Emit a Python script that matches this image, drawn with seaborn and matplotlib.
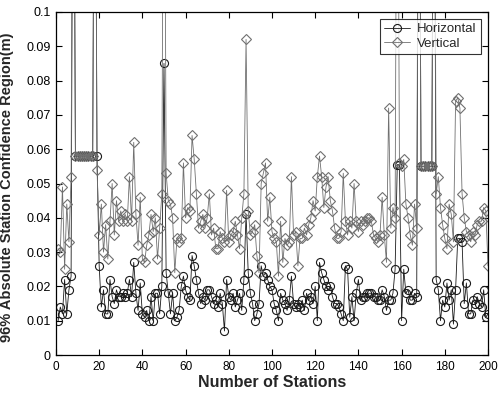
import numpy as np
import pandas as pd
import matplotlib
matplotlib.use("Agg")
import matplotlib.pyplot as plt
import seaborn as sns

# ---- data ----
stations = list(range(1, 201))

horizontal = [
    0.010, 0.014, 0.012, 0.022, 0.012, 0.019, 0.023, 0.200, 0.058, 0.058,
    0.058, 0.058, 0.058, 0.058, 0.058, 0.058, 0.058, 0.200, 0.058, 0.026,
    0.014, 0.019, 0.012, 0.012, 0.022, 0.017, 0.015, 0.019, 0.017, 0.017,
    0.018, 0.017, 0.018, 0.022, 0.017, 0.027, 0.018, 0.013, 0.021, 0.012,
    0.011, 0.013, 0.010, 0.017, 0.010, 0.018, 0.018, 0.012, 0.020, 0.085,
    0.024, 0.018, 0.012, 0.018, 0.010, 0.011, 0.013, 0.020, 0.023, 0.019,
    0.017, 0.016, 0.029, 0.026, 0.022, 0.018, 0.015, 0.017, 0.016, 0.019,
    0.019, 0.017, 0.015, 0.016, 0.014, 0.018, 0.015, 0.007, 0.022, 0.017,
    0.016, 0.018, 0.014, 0.016, 0.018, 0.013, 0.022, 0.041, 0.024, 0.018,
    0.015, 0.010, 0.012, 0.015, 0.026, 0.023, 0.024, 0.022, 0.020, 0.019,
    0.015, 0.013, 0.010, 0.018, 0.016, 0.015, 0.013, 0.016, 0.023, 0.015,
    0.014, 0.015, 0.014, 0.016, 0.013, 0.018, 0.016, 0.017, 0.015, 0.020,
    0.010, 0.027, 0.024, 0.022, 0.020, 0.019, 0.020, 0.017, 0.015, 0.015,
    0.014, 0.012, 0.010, 0.026, 0.025, 0.011, 0.017, 0.010, 0.018, 0.022,
    0.016, 0.017, 0.017, 0.018, 0.018, 0.018, 0.017, 0.017, 0.016, 0.016,
    0.019, 0.017, 0.013, 0.016, 0.016, 0.018, 0.025, 0.0555, 0.0555, 0.010,
    0.025, 0.018, 0.019, 0.016, 0.016, 0.018, 0.017, 0.200, 0.055, 0.055,
    0.055, 0.055, 0.055, 0.055, 0.200, 0.022, 0.019, 0.010, 0.016, 0.014,
    0.021, 0.016, 0.019, 0.009, 0.019, 0.034, 0.034, 0.033, 0.015, 0.021,
    0.012, 0.012, 0.016, 0.015, 0.017, 0.015, 0.014, 0.019, 0.011, 0.012,
]

vertical = [
    0.031, 0.030, 0.049, 0.025, 0.044, 0.033, 0.052, 0.200, 0.058, 0.058,
    0.058, 0.058, 0.058, 0.058, 0.058, 0.058, 0.058, 0.200, 0.054, 0.035,
    0.044, 0.030, 0.038, 0.028, 0.039, 0.050, 0.035, 0.045, 0.039, 0.042,
    0.039, 0.041, 0.039, 0.052, 0.039, 0.062, 0.041, 0.032, 0.046, 0.028,
    0.027, 0.032, 0.035, 0.041, 0.036, 0.040, 0.028, 0.037, 0.047, 0.200,
    0.053, 0.045, 0.044, 0.040, 0.024, 0.034, 0.033, 0.034, 0.056, 0.040,
    0.043, 0.042, 0.064, 0.057, 0.047, 0.037, 0.039, 0.041, 0.037, 0.040,
    0.047, 0.035, 0.037, 0.031, 0.031, 0.036, 0.034, 0.033, 0.048, 0.033,
    0.035, 0.036, 0.039, 0.035, 0.031, 0.040, 0.047, 0.092, 0.042, 0.035,
    0.036, 0.038, 0.029, 0.024, 0.050, 0.053, 0.056, 0.039, 0.046, 0.036,
    0.034, 0.033, 0.023, 0.039, 0.027, 0.034, 0.032, 0.033, 0.052, 0.035,
    0.036, 0.026, 0.034, 0.034, 0.037, 0.035, 0.038, 0.040, 0.045, 0.042,
    0.052, 0.058, 0.052, 0.043, 0.049, 0.052, 0.045, 0.042, 0.037, 0.034,
    0.034, 0.036, 0.053, 0.039, 0.035, 0.039, 0.037, 0.050, 0.039, 0.036,
    0.039, 0.038, 0.039, 0.040, 0.040, 0.039, 0.035, 0.034, 0.033, 0.035,
    0.046, 0.035, 0.027, 0.072, 0.037, 0.043, 0.040, 0.200, 0.056, 0.055,
    0.057, 0.044, 0.040, 0.035, 0.032, 0.044, 0.037, 0.200, 0.055, 0.055,
    0.055, 0.055, 0.055, 0.055, 0.200, 0.047, 0.052, 0.043, 0.038, 0.034,
    0.031, 0.044, 0.041, 0.033, 0.074, 0.075, 0.072, 0.047, 0.040, 0.036,
    0.035, 0.033, 0.036, 0.035, 0.038, 0.039, 0.039, 0.043, 0.042, 0.026,
]

y_ticks = [0, 0.01, 0.02, 0.03, 0.04, 0.05, 0.06, 0.07, 0.08, 0.09, 0.1]
y_ticklabels = ["0", "0.01", "0.02", "0.03", "0.04", "0.05", "0.06", "0.07", "0.08", "0.09", "0.1"]
x_ticks = [0, 20, 40, 60, 80, 100, 120, 140, 160, 180, 200]

# ---- plot ----
sns.set_style("ticks")
plt.rcParams["font.family"] = ["Liberation Sans", "DejaVu Sans"]

fig = plt.figure(figsize=(4.98, 3.96), dpi=100)
ax = fig.add_axes([0.1124, 0.1035, 0.8675, 0.8662])

sns.lineplot(x=stations, y=horizontal, ax=ax, color="#1a1a1a", lw=0.6,
             marker="o", markersize=5.8, mfc="none", mec="#1a1a1a", mew=0.8,
             label="Horizontal")
sns.lineplot(x=stations, y=vertical, ax=ax, color="#707070", lw=0.6,
             marker="D", markersize=4.8, mfc="none", mec="#707070", mew=0.8,
             label="Vertical")

ax.set_xlim(0, 200)
ax.set_ylim(0, 0.1)
ax.set_xticks(x_ticks)
ax.set_yticks(y_ticks)
ax.set_yticklabels(y_ticklabels)
ax.tick_params(direction="in", top=True, right=True, length=4, width=0.8,
               colors="black", pad=4)
ax.tick_params(axis="y", labelsize=9)
ax.tick_params(axis="x", labelsize=8.5)
for s in ax.spines.values():
    s.set_visible(True)
    s.set_color("black")
    s.set_linewidth(0.9)

ax.set_xlabel("Number of Stations", fontsize=11.5, fontweight="bold", labelpad=2)
ax.set_ylabel("96% Absolute Station Confidence Region(m)", fontsize=10.5,
              fontweight="bold")
ax.yaxis.set_label_coords(-0.097, 0.49)

leg = ax.legend(loc="upper right", fontsize=9.5, frameon=True, fancybox=False,
                edgecolor="black", borderaxespad=0.55, handlelength=2.0,
                handletextpad=0.55, borderpad=0.3, labelspacing=0.15)
leg.get_frame().set_linewidth(0.8)

fig.savefig("out.png", dpi=100, facecolor="white")
